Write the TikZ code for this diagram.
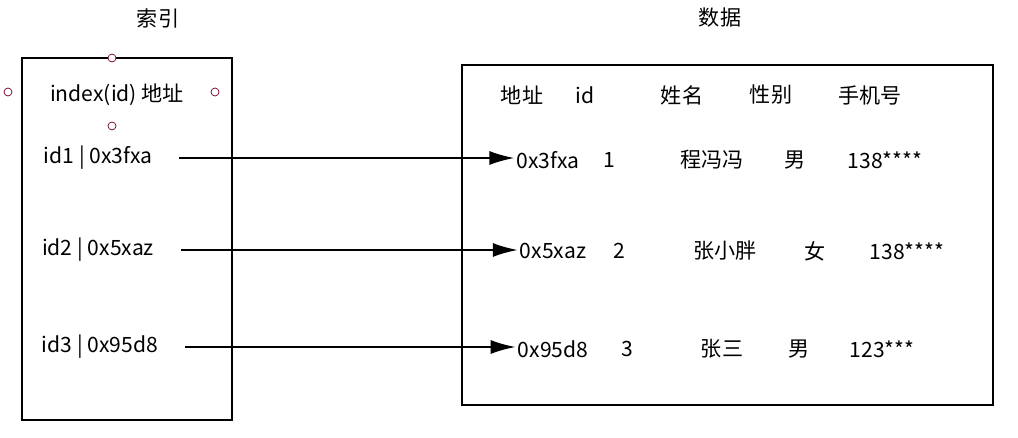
\documentclass[tikz,border=0pt]{standalone}
\usepackage{fontspec}
\setmainfont{Noto Sans CJK SC}
\usetikzlibrary{arrows.meta}
\tikzset{
	txt/.style={inner sep=1pt,font=\fontsize{12}{14}\selectfont},
	dot/.style={circle,draw=purple!60!black,fill=white,inner sep=0pt,minimum size=0.16cm,thin},
	box/.style={draw,line width=1.3pt},
	pfeil/.style={-{Latex[length=0.5cm,width=0.28cm]},line width=1.1pt}
}
\begin{document}
\begin{tikzpicture}[x=0.02cm,y=-0.02cm]

\useasboundingbox (0,0) rectangle (1018,438);

% Index
\draw[box] (22,58) rectangle (232,420);
\node[txt] (t1) at (158,18) {索引};
\node[txt] (ih) at (117,95) {index(id) 地址};
\node[dot] (d1) at (112,58) {};
\node[dot] (d2) at (8,92) {};
\node[dot] (d3) at (215,92) {};
\node[dot] (d4) at (112,126) {};
\node[txt] (id1) at (98,158) {id1 | 0x3fxa};
\node[txt] (id2) at (98,250) {id2 | 0x5xaz};
\node[txt] (id3) at (100,347) {id3 | 0x95d8};

% Daten
\draw[box] (462,65) rectangle (993,405);
\node[txt] (t2) at (720,18) {数据};
\node[txt] at (522,95) {地址};
\node[txt] at (585,95) {id};
\node[txt] at (682,95) {姓名};
\node[txt] at (771,95) {性别};
\node[txt] at (870,95) {手机号};

\node[txt] (r1) at (548,160) {0x3fxa};
\node[txt] at (609,160) {1};
\node[txt] at (712,160) {程冯冯};
\node[txt] at (795,160) {男};
\node[txt] at (885,160) {138****};

\node[txt] (r2) at (553,251) {0x5xaz};
\node[txt] at (619,251) {2};
\node[txt] at (725,251) {张小胖};
\node[txt] at (815,251) {女};
\node[txt] at (907,251) {138****};

\node[txt] (r3) at (553,349) {0x95d8};
\node[txt] at (627,349) {3};
\node[txt] at (722,349) {张三};
\node[txt] at (799,349) {男};
\node[txt] at (882,349) {123***};

\draw[pfeil] ([xshift=0.5cm]id1.east) -- (id1.east -| r1.west);
\draw[pfeil] ([xshift=0.5cm]id2.east) -- (id2.east -| r2.west);
\draw[pfeil] ([xshift=0.5cm]id3.east) -- (id3.east -| r3.west);

\end{tikzpicture}
\end{document}
